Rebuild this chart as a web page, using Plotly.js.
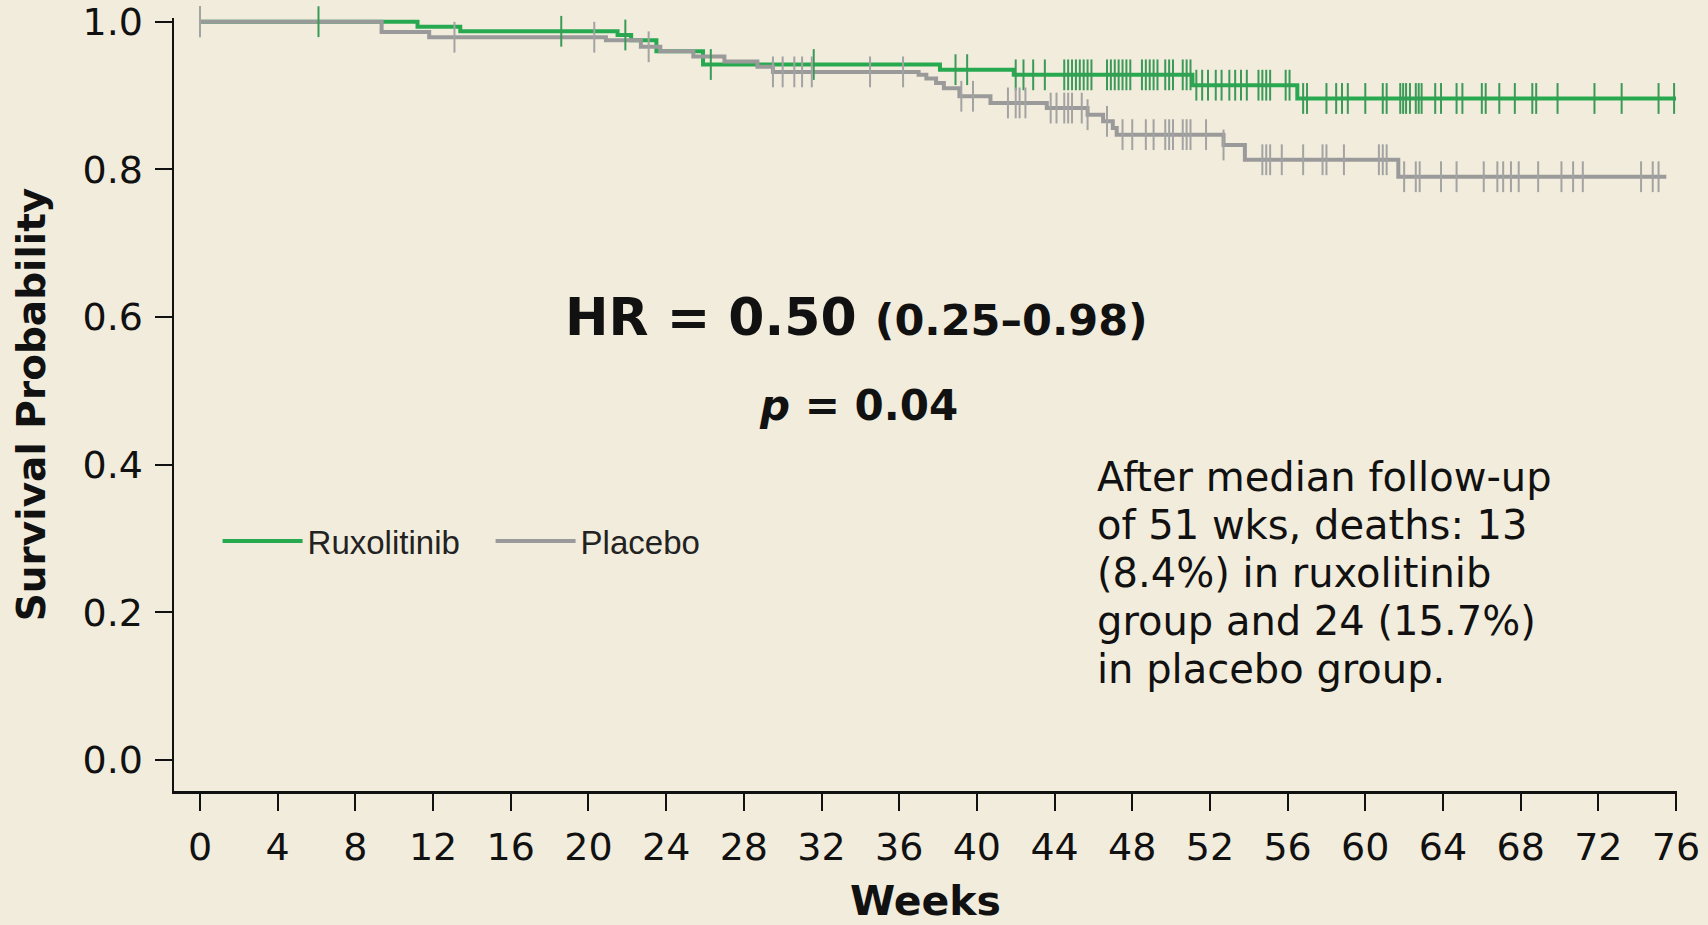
<!DOCTYPE html>
<html>
<head>
<meta charset="utf-8">
<script src="https://cdn.plot.ly/plotly-3.0.1.min.js"></script>
<style>html,body{margin:0;padding:0;background:#f2ecdc;}#chart{width:1708px;height:925px;}</style>
</head>
<body>
<div id="chart"></div>
<script>
// Kaplan–Meier step points (weeks, survival probability)
var ruxTime = [0, 11.2, 13.4, 21.5, 22.2, 23.5, 25.9, 38.1, 41.9, 51.1, 56.5, 76.0];
var ruxSurv = [1.0, 0.993, 0.987, 0.982, 0.975, 0.960, 0.942, 0.935, 0.928, 0.914, 0.896, 0.896];
var plaTime = [0, 9.35, 11.8, 20.9, 22.7, 23.7, 25.4, 27.0, 28.7, 29.5, 37.0, 37.4, 37.9, 38.3, 39.1, 40.7, 43.6, 45.7, 46.5, 47.0, 47.2, 52.7, 53.8, 61.7, 75.5];
var plaSurv = [1.0, 0.986, 0.979, 0.975, 0.966, 0.960, 0.953, 0.946, 0.939, 0.932, 0.928, 0.923, 0.917, 0.910, 0.899, 0.890, 0.883, 0.874, 0.865, 0.856, 0.847, 0.833, 0.813, 0.790, 0.790];

// Censoring times (weeks)
var ruxCensor = [0, 6.1, 18.6, 21.9, 26.3, 31.6, 38.9, 39.5, 42.0, 42.4, 42.9, 43.5,
  44.5, 44.7, 44.9, 45.1, 45.3, 45.5, 45.7, 45.9,
  46.7, 46.9, 47.1, 47.3, 47.5, 47.7, 47.9,
  48.5, 48.7, 48.9, 49.1, 49.3, 49.7, 49.9, 50.1, 50.6, 50.8, 51.0,
  51.3, 51.6, 51.9, 52.3, 52.6, 53.0, 53.3, 53.6, 53.9, 54.5, 54.7, 54.9, 55.1, 55.9, 56.1, 56.8, 57.0,
  58.0, 58.5, 58.8, 59.1, 60.0, 60.9, 61.1, 61.8, 61.95, 62.1, 62.3, 62.6, 62.75, 62.9, 63.6, 63.9,
  64.7, 65.0, 66.0, 66.2, 66.9, 67.7, 68.6, 68.8, 69.9, 71.8, 73.2, 75.1, 75.9];
var plaCensor = [0, 13.1, 20.3, 23.1, 29.5, 30.0, 30.6, 31.0, 31.5, 34.5, 36.2, 39.2, 39.8,
  41.6, 42.0, 42.2, 42.5, 43.8, 44.1, 44.5, 44.7, 44.9, 45.4, 45.7, 46.7, 47.5, 48.0, 48.7, 49.1,
  49.7, 49.9, 50.1, 50.6, 50.8, 51.0, 51.8, 52.7, 54.7, 54.9, 55.1, 55.7, 56.8,
  57.8, 58.0, 58.9, 60.7, 60.9, 61.1, 62.0, 62.6, 62.8, 63.9, 64.7, 66.1, 66.8, 67.1, 67.5, 67.9,
  68.9, 70.1, 70.7, 71.2, 74.2, 74.8, 75.1];

var groupNames = ['Ruxolitinib', 'Placebo'];
var xTickVals = [0, 4, 8, 12, 16, 20, 24, 28, 32, 36, 40, 44, 48, 52, 56, 60, 64, 68, 72, 76];
var yTickVals = [0, 0.2, 0.4, 0.6, 0.8, 1.0];
var noteLines = ['After median follow-up', 'of 51 wks, deaths: 13', '(8.4%) in ruxolitinib',
                 'group and 24 (15.7%)', 'in placebo group.'];

function stepLookup(times, surv, t) {
  var v = surv[0];
  for (var i = 0; i < times.length; i++) { if (times[i] <= t) v = surv[i]; }
  return v;
}
function censorY(times, surv, cens) { return cens.map(function (t) { return stepLookup(times, surv, t); }); }

var GREEN = '#27a950', GREEN_C = '#3a9a57', GRAY = '#9a9a9a', GRAY_C = '#a3a3a3';

var traces = [
  {x: ruxTime, y: ruxSurv, mode: 'lines', line: {shape: 'hv', color: GREEN, width: 4}, name: groupNames[0], showlegend: true},
  {x: plaTime, y: plaSurv, mode: 'lines', line: {shape: 'hv', color: GRAY, width: 4}, name: groupNames[1], showlegend: true},
  {x: ruxCensor, y: censorY(ruxTime, ruxSurv, ruxCensor), mode: 'markers', showlegend: false, cliponaxis: false,
   marker: {symbol: 'line-ns', size: 22, line: {width: 2, color: GREEN_C}}},
  {x: plaCensor, y: censorY(plaTime, plaSurv, plaCensor), mode: 'markers', showlegend: false, cliponaxis: false,
   marker: {symbol: 'line-ns', size: 22, line: {width: 2, color: GRAY_C}}}
];

var annotations = [
  {x: 33.8, y: 0.600, xref: 'x', yref: 'y', showarrow: false, xanchor: 'center', yanchor: 'middle',
   text: "<b>HR = 0.50 <span style='font-size:43px'>(0.25–0.98)</span></b>",
   font: {family: 'DejaVu Sans', size: 52, color: '#111'}},
  {x: 33.9, y: 0.480, xref: 'x', yref: 'y', showarrow: false, xanchor: 'center', yanchor: 'middle',
   text: '<b><i>p</i> = 0.04</b>', font: {family: 'DejaVu Sans', size: 42, color: '#111'}}
];
noteLines.forEach(function (t, i) {
  annotations.push({x: 46.1, y: 0.3835 - i * 0.065, xref: 'x', yref: 'y', showarrow: false,
    xanchor: 'left', yanchor: 'middle', align: 'left', text: t,
    font: {family: 'DejaVu Sans', size: 40, color: '#111'}});
});

var layout = {
  width: 1708, height: 925,
  paper_bgcolor: '#f2ecdc', plot_bgcolor: '#f2ecdc',
  margin: {l: 174, r: 31, t: 18, b: 134},
  font: {family: 'DejaVu Sans', color: '#111'},
  xaxis: {
    range: [-1.34, 76.05], tickvals: xTickVals, ticks: 'outside', ticklen: 17, tickwidth: 2, tickcolor: '#111',
    showline: true, linecolor: '#111', linewidth: 2.5, showgrid: false, zeroline: false,
    tickfont: {family: 'DejaVu Sans', size: 38, color: '#111'}, ticklabelstandoff: 4, ticklabeloverflow: 'allow',
    title: {text: '<b>Weeks</b>', font: {family: 'DejaVu Sans', size: 41, color: '#111'}, standoff: 22},
    automargin: false
  },
  yaxis: {
    range: [-0.042, 1.005], tickvals: yTickVals, tickformat: '.1f', ticks: 'outside', ticklen: 17, tickwidth: 2, tickcolor: '#111',
    showline: true, linecolor: '#111', linewidth: 2.5, showgrid: false, zeroline: false,
    tickfont: {family: 'DejaVu Sans', size: 38, color: '#111'}, ticklabelstandoff: 4, ticklabeloverflow: 'allow',
    title: {text: '<b>Survival Probability</b>', font: {family: 'DejaVu Sans', size: 39, color: '#111'}, standoff: 25},
    automargin: false
  },
  legend: {
    orientation: 'h', x: 0.029, xanchor: 'left', y: 0.3235, yanchor: 'middle',
    bgcolor: 'rgba(0,0,0,0)', font: {family: 'Liberation Sans', size: 33, color: '#222'},
    itemwidth: 80, entrywidth: 178, entrywidthmode: 'pixels', traceorder: 'normal'
  },
  annotations: annotations
};

Plotly.newPlot('chart', traces, layout, {displayModeBar: false, staticPlot: true});
</script>
</body>
</html>
